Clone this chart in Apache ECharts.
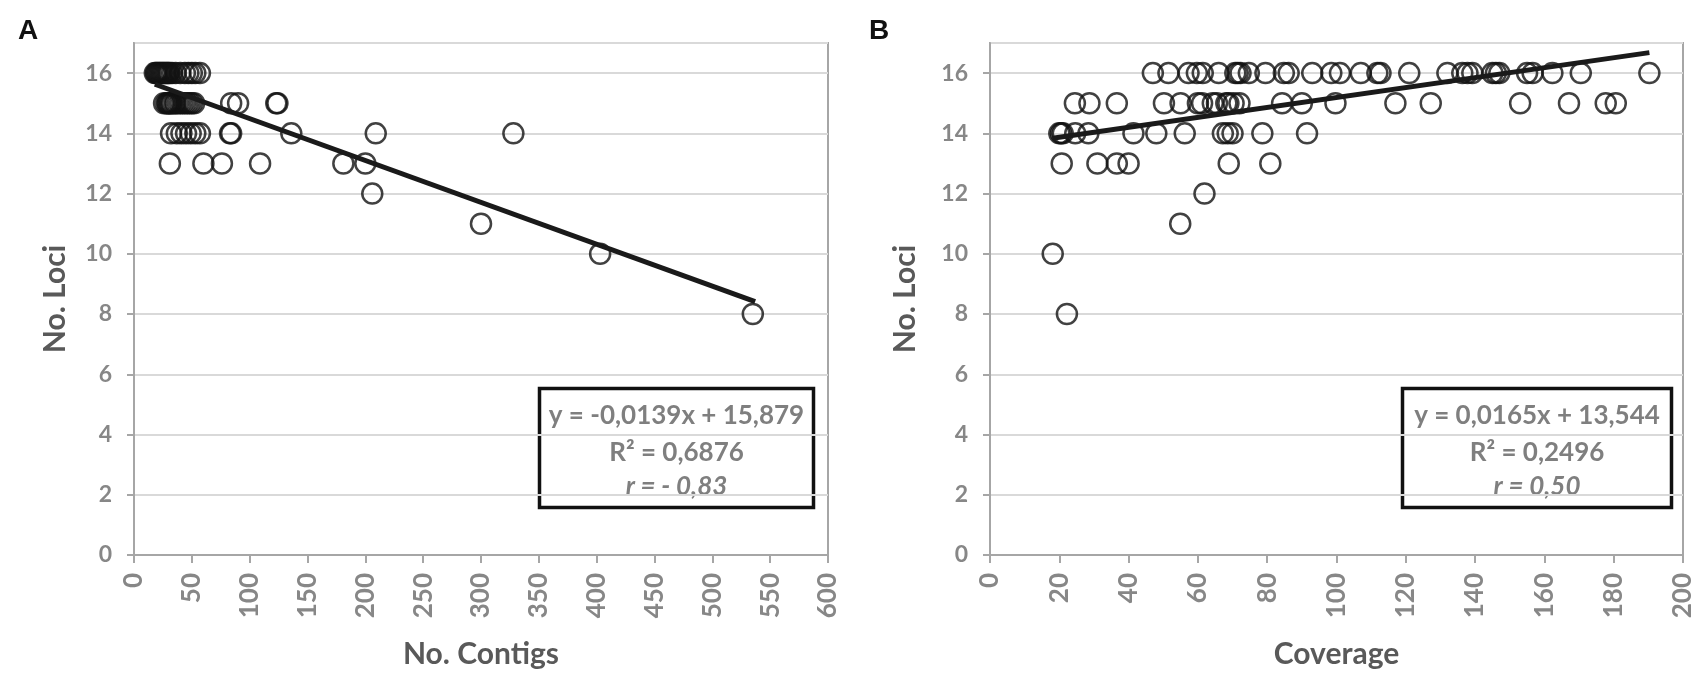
<!DOCTYPE html>
<html>
<head>
<meta charset="utf-8">
<script src="https://cdn.jsdelivr.net/npm/echarts@6/dist/echarts.min.js"></script>
<style>
  html, body { margin: 0; padding: 0; background: #fff; }
  #chart { width: 1704px; height: 683px; }
</style>
</head>
<body>
<div id="chart"></div>
<script>
// No. Loci levels found in the data
const lociLevels = [16, 15, 14, 13, 12, 11, 10, 8];

// panel A: No. Contigs per loci level
const contigsAt16 = [18, 19, 20, 21, 22, 23, 24, 25, 26, 27, 28, 29, 30, 31, 33, 36, 40, 44, 47, 50, 53, 57];
const contigsAt15 = [26, 28, 29, 30, 31, 32, 33, 35, 36, 38, 40, 42, 44, 46, 48, 50, 52, 84, 90, 123, 124];
const contigsAt14 = [32, 37, 41, 45, 49, 53, 57, 83, 84, 136, 209, 328];
const contigsAt13 = [31, 60, 76, 109, 181, 200];
const contigsAt12 = [206];
const contigsAt11 = [300];
const contigsAt10 = [403];
const contigsAt8 = [535];

// panel B: Coverage per loci level
const coverageAt16 = [47, 51.5, 57.3, 59.7, 61.4, 66, 70.8, 71.5, 72.3, 74.7, 79.5, 84.8, 86.2, 93, 98.5, 101, 107, 111.8, 112.7, 121, 132, 136.3, 137.8, 139.2, 145, 146, 147, 155, 156.6, 162.3, 170.5, 190.3];
const coverageAt15 = [24.5, 28.7, 36.6, 50.2, 55, 60, 61.2, 64.3, 65.5, 68.2, 68.8, 70.3, 72, 84.3, 90, 99.7, 117, 127.2, 153, 167.1, 177.7, 180.6];
const coverageAt14 = [20, 20.5, 21, 24.6, 28.4, 41.4, 48, 56.2, 67.2, 68.6, 70, 78.6, 91.5];
const coverageAt13 = [20.7, 31, 36.6, 40, 68.9, 80.9];
const coverageAt12 = [61.9];
const coverageAt11 = [54.9];
const coverageAt10 = [18.1];
const coverageAt8 = [22.2];

// linear trend end points
const contigsTrend = [[18, 15.63], [537, 8.41]];
const coverageTrend = [[18, 13.84], [190.3, 16.68]];

// fit labels
const fitA = ['y = -0,0139x + 15,879', 'R² = 0,6876', 'r = - 0,83'];
const fitB = ['y = 0,0165x + 13,544', 'R² = 0,2496', 'r = 0,50'];

function toPoints(groups) {
    let pts = [];
    groups.forEach((xs, i) => xs.forEach(x => pts.push([x, lociLevels[i]])));
    return pts;
}
const contigsPoints = toPoints([contigsAt16, contigsAt15, contigsAt14, contigsAt13, contigsAt12, contigsAt11, contigsAt10, contigsAt8]);
const coveragePoints = toPoints([coverageAt16, coverageAt15, coverageAt14, coverageAt13, coverageAt12, coverageAt11, coverageAt10, coverageAt8]);

const axisGray = '#a6a6a6';
const labelGray = '#878787';

function xAxis(idx, max, interval, name) {
    return {
        type: 'value', gridIndex: idx, min: 0, max: max, interval: interval,
        name: name, nameLocation: 'middle', nameGap: 84,
        nameTextStyle: { fontFamily: 'Lato', fontWeight: 'bold', fontSize: 30, color: '#595959' },
        axisLine: { show: true, lineStyle: { color: axisGray, width: 2 } },
        axisTick: { show: true, length: 8, lineStyle: { color: axisGray, width: 2 } },
        axisLabel: { rotate: 90, margin: 18, fontFamily: 'Lato', fontWeight: 'bold', fontSize: 26, color: labelGray },
        splitLine: { show: false }
    };
}
function yAxis(idx, gap) {
    return {
        type: 'value', gridIndex: idx, min: 0, max: 17, interval: 2,
        name: 'No. Loci', nameLocation: 'middle', nameGap: gap,
        nameTextStyle: { fontFamily: 'Lato', fontWeight: 'bold', fontSize: 30, color: '#595959' },
        axisLine: { show: true, lineStyle: { color: axisGray, width: 2 } },
        axisTick: { show: true, length: 7, lineStyle: { color: axisGray, width: 2 } },
        axisLabel: { margin: 22, showMaxLabel: false, fontFamily: 'Lato', fontWeight: 'bold', fontSize: 23, color: labelGray },
        splitLine: { show: true, lineStyle: { color: '#d9d9d9', width: 2 } }
    };
}
function scatter(idx, data) {
    return {
        type: 'scatter', xAxisIndex: idx, yAxisIndex: idx, data: data,
        symbol: 'circle', symbolSize: 20,
        itemStyle: { color: 'rgba(0,0,0,0)', borderColor: '#111', borderWidth: 2.5 }
    };
}
function trend(idx, data) {
    return {
        type: 'line', xAxisIndex: idx, yAxisIndex: idx, data: data,
        symbol: 'none', lineStyle: { color: '#1a1a1a', width: 5 }, z: 5
    };
}
function fitBox(x, y, w, h, lines) {
    const fonts = ['bold 26px Lato', 'bold 26px Lato', 'italic bold 26px Lato'];
    const offs = [27, 64, 98];
    return {
        type: 'group', left: x, top: y, z: 10,
        children: [{
            type: 'rect', shape: { x: 0, y: 0, width: w, height: h },
            style: { fill: 'none', stroke: '#111', lineWidth: 3.5 }
        }].concat(lines.map((t, i) => ({
            type: 'text', x: w / 2, y: offs[i],
            style: { text: t, font: fonts[i], fill: '#7f7f7f', align: 'center', verticalAlign: 'middle' }
        })))
    };
}

var myChart = echarts.init(document.getElementById('chart'));
let option = {
    animation: false,
    backgroundColor: '#fff',
    grid: [
        { left: 134, width: 694, top: 43, height: 512, show: true, borderColor: axisGray, borderWidth: 2 },
        { left: 990, width: 693, top: 43, height: 512, show: true, borderColor: axisGray, borderWidth: 2 }
    ],
    xAxis: [xAxis(0, 600, 50, 'No. Contigs'), xAxis(1, 200, 20, 'Coverage')],
    yAxis: [yAxis(0, 64), yAxis(1, 70)],
    series: [scatter(0, contigsPoints), trend(0, contigsTrend), scatter(1, coveragePoints), trend(1, coverageTrend)],
    graphic: [
        { type: 'text', left: 18, top: 17, style: { text: 'A', font: 'bold 28px "Liberation Sans"', fill: '#111' } },
        { type: 'text', left: 869, top: 17, style: { text: 'B', font: 'bold 28px "Liberation Sans"', fill: '#111' } },
        fitBox(537, 386, 274, 119, fitA),
        fitBox(1400, 386, 269, 119, fitB)
    ]
};
myChart.setOption(option);
</script>
</body>
</html>
